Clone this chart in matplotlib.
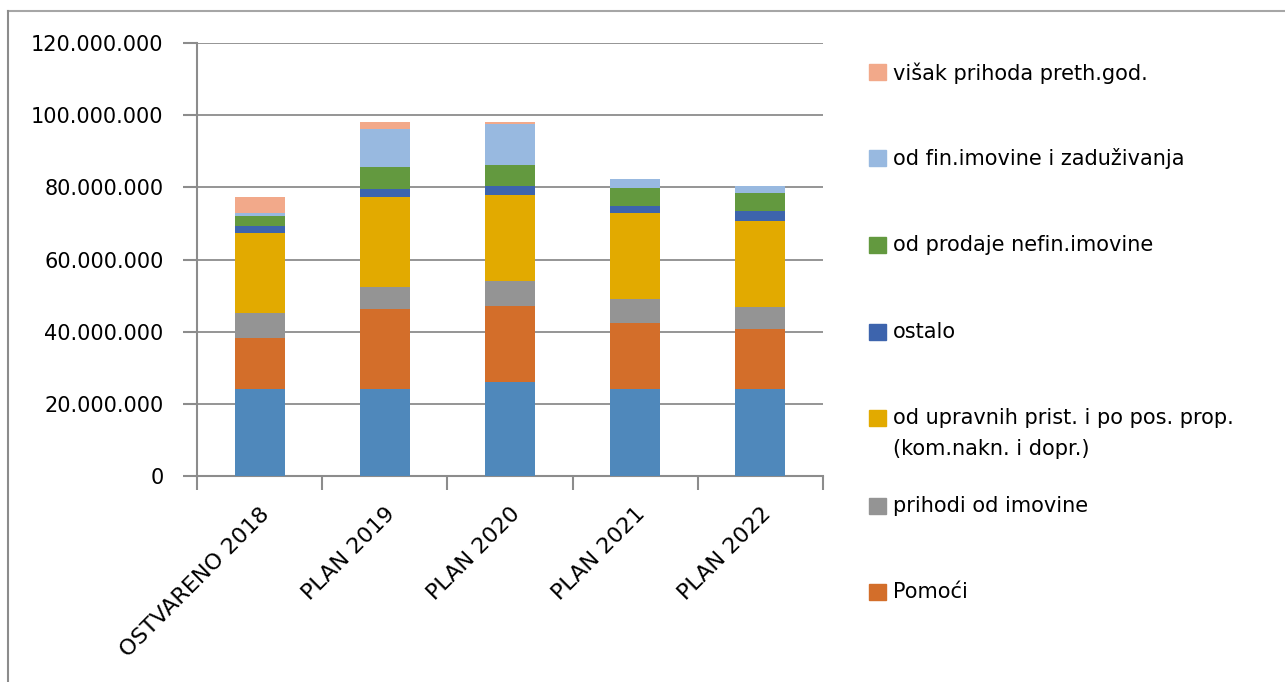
import matplotlib
matplotlib.use('Agg')
import matplotlib.pyplot as plt
import numpy as np
from matplotlib.patches import Rectangle
from matplotlib.lines import Line2D

# Kategorije i serije (u kunama)
categories = ['OSTVARENO 2018', 'PLAN 2019', 'PLAN 2020', 'PLAN 2021', 'PLAN 2022']

porezi = [24.0e6, 24.0e6, 26.1e6, 24.2e6, 24.2e6]
pomoci = [14.3e6, 22.4e6, 21.1e6, 18.2e6, 16.5e6]
imovina = [6.9e6, 5.9e6, 6.9e6, 6.6e6, 6.1e6]
upravne = [22.1e6, 24.9e6, 23.7e6, 23.9e6, 23.8e6]
ostalo = [2.0e6, 2.2e6, 2.6e6, 1.9e6, 2.8e6]
nefin = [2.8e6, 6.3e6, 5.8e6, 5.0e6, 5.0e6]
fin_zad = [0.7e6, 10.5e6, 11.4e6, 2.5e6, 1.9e6]
visak = [4.5e6, 2.0e6, 0.5e6, 0.0, 0.0]

series = [
    ('Prihodi od poreza', porezi, '#4f88bb'),
    ('Pomoći', pomoci, '#d36e2a'),
    ('prihodi od imovine', imovina, '#949494'),
    ('od upravnih prist. i po pos. prop.\n(kom.nakn. i dopr.)', upravne, '#e2aa00'),
    ('ostalo', ostalo, '#3d64ad'),
    ('od prodaje nefin.imovine', nefin, '#63993f'),
    ('od fin.imovine i zaduživanja', fin_zad, '#98b9e0'),
    ('višak prihoda preth.god.', visak, '#f2a98a'),
]

W, H = 1285, 682
fig = plt.figure(figsize=(W / 100, H / 100), dpi=100)
ax = fig.add_axes([197 / W, 1 - 476 / H, (823 - 197) / W, (476 - 43) / H])

x = np.arange(len(categories))
bottom = np.zeros(len(categories))
for label, vals, color in series:
    ax.bar(x, vals, width=0.4, bottom=bottom, color=color, zorder=3)
    bottom += np.array(vals)

ax.set_xlim(-0.5, len(categories) - 0.5)
ax.set_ylim(0, 120e6)
yt = np.arange(0, 120e6 + 1, 20e6)
ax.set_yticks(yt)
ax.set_yticklabels(['0' if v == 0 else f'{int(v):,}'.replace(',', '.') for v in yt],
                   fontsize=15)
ax.grid(axis='y', color='#8c8c8c', linewidth=1.3, zorder=0)

ax.set_xticks(x)
ax.set_xticklabels(categories, rotation=45, ha='right', rotation_mode='anchor',
                   fontsize=16)
ax.tick_params(axis='x', length=0, pad=20)
ax.set_xticks(np.arange(-0.5, len(categories)), minor=True)
ax.tick_params(axis='x', which='minor', length=10, width=1.5, color='#8c8c8c')
ax.tick_params(axis='y', length=10, width=1.5, color='#8c8c8c', pad=14)

for side in ['top', 'right']:
    ax.spines[side].set_visible(False)
for side in ['left', 'bottom']:
    ax.spines[side].set_color('#8c8c8c')
    ax.spines[side].set_linewidth(1.5)

# Legenda (bez prve serije, kao na izvorniku)
legend_rows = [
    (7, 72), (6, 158), (5, 245), (4, 332), (3, 418), (2, 506), (1, 592),
]
for idx, ypx in legend_rows:
    label, _, color = series[idx]
    fig.patches.append(Rectangle((869 / W, 1 - (ypx + 8) / H), 17 / W, 16 / H,
                                 transform=fig.transFigure, color=color))
    fig.text(893 / W, 1 - (ypx - 10) / H, label, fontsize=15, va='top', ha='left',
             linespacing=1.7)

# Okvir
fig.add_artist(Line2D([8 / W, 1], [1 - 11 / H, 1 - 11 / H], color='#a6a6a6',
                      linewidth=1.5, transform=fig.transFigure))
fig.add_artist(Line2D([8 / W, 8 / W], [0, 1 - 11 / H], color='#8c8c8c',
                      linewidth=1.5, transform=fig.transFigure))

fig.savefig('out.png', dpi=100)
